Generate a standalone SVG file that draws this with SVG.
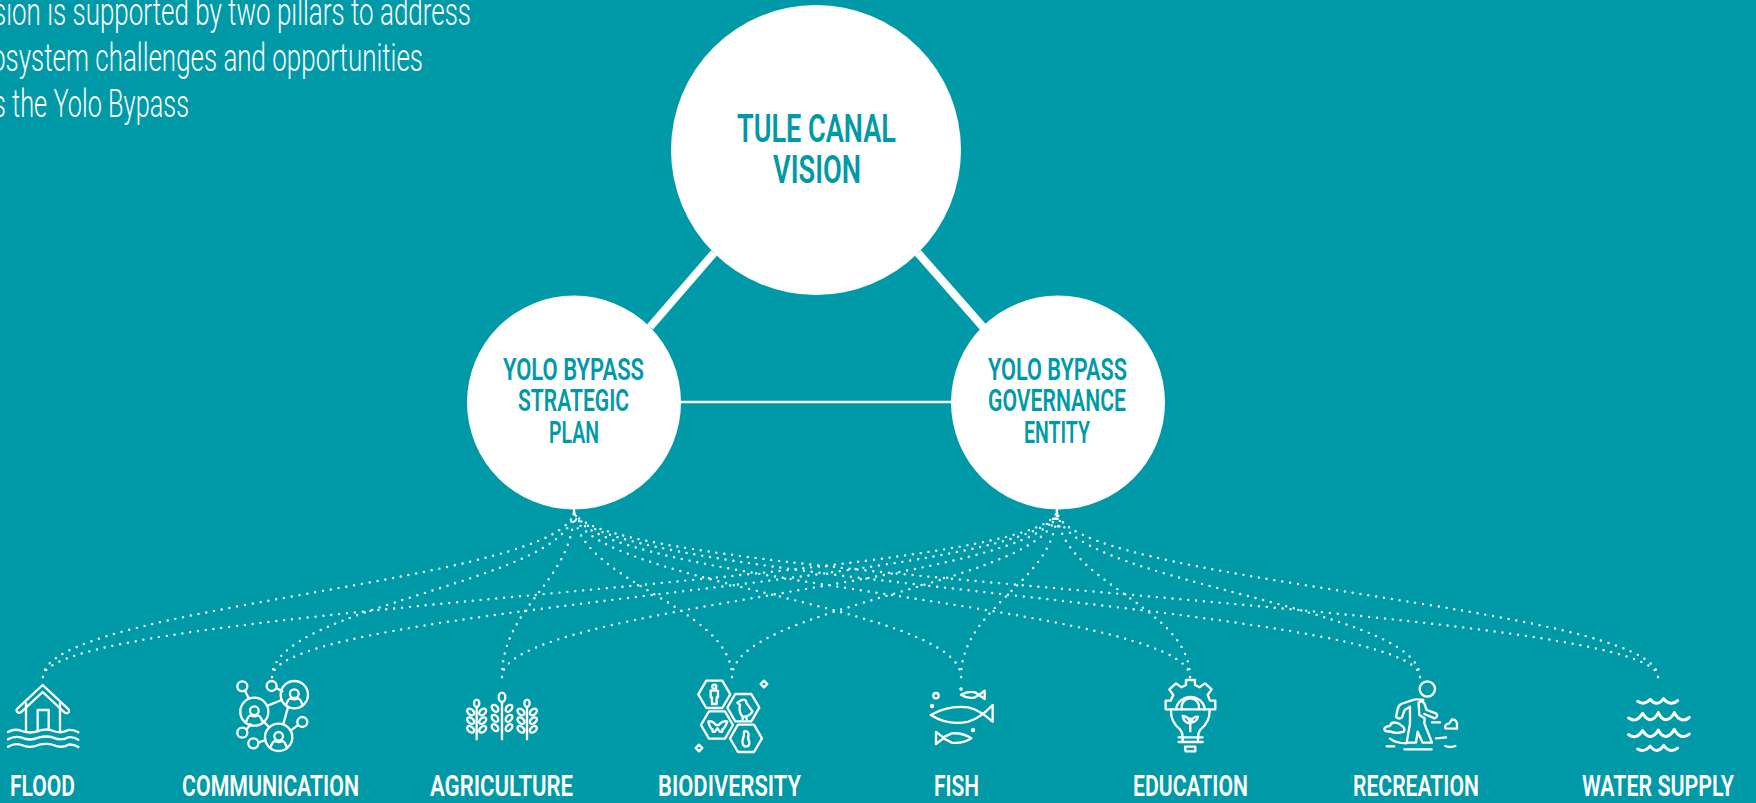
<svg xmlns="http://www.w3.org/2000/svg" width="1756" height="803" viewBox="0 0 1756 803">
<style>
.t{font-family:"Roboto","Liberation Sans",sans-serif;font-weight:600}
.w{fill:#fff}.c{fill:#0099a8}
.lab{font-size:29.5px}.pil{font-size:31px}.ttl{font-size:39.5px}
.para{font-family:"Roboto","Liberation Sans",sans-serif;font-weight:300;font-size:38px;fill:#fff}
.dot{fill:none;stroke:#fff;stroke-width:2.4;stroke-linecap:round;stroke-dasharray:0 7.9}
.ic{fill:none;stroke:#fff;stroke-width:7;stroke-linecap:round;stroke-linejoin:round}
.solid{stroke:#fff;fill:none}
</style>
<defs>
<g id="person"><circle cx="0" cy="-6" r="13"/><path d="M-24 26 Q-18 8 -10 8 Q0 14 10 8 Q18 8 24 26"/></g>
<path id="hex" d="M-48 0 L-24 -41 L24 -41 L48 0 L24 41 L-24 41 Z"/>
<ellipse id="leaf" cx="0" cy="0" rx="8" ry="12"/>
<path id="diam" d="M0 -10 L10 0 L0 10 L-10 0 Z"/>
</defs>
<rect width="1756" height="803" fill="#0099a8"/>
<g id="intro">
<text class="para" x="-7" y="25" textLength="478" lengthAdjust="spacingAndGlyphs">sion is supported by two pillars to address</text>
<text class="para" x="-9" y="71" textLength="432" lengthAdjust="spacingAndGlyphs">osystem challenges and opportunities</text>
<text class="para" x="-7" y="117" textLength="196" lengthAdjust="spacingAndGlyphs">s the Yolo Bypass</text>
</g>
<g id="connectors">
<path class="solid" stroke-width="8" d="M714 253 L650 327"/>
<path class="solid" stroke-width="8" d="M918 253 L983 327"/>
<path class="solid" stroke-width="2.5" d="M681 402 L951 402"/>
<path class="solid" stroke-width="2" d="M574 509 V514"/>
<path class="solid" stroke-width="2" d="M1057 509 V516"/>
<path class="dot" d="M43 677 C43 605 574 582 574 510"/>
<path class="dot" d="M43 677 C43 605 1057 582 1057 510"/>
<path class="dot" d="M272 677 C272 605 574 582 574 510"/>
<path class="dot" d="M272 677 C272 605 1057 582 1057 510"/>
<path class="dot" d="M502 677 C502 605 574 582 574 510"/>
<path class="dot" d="M502 677 C502 605 1057 582 1057 510"/>
<path class="dot" d="M732 677 C732 605 574 582 574 510"/>
<path class="dot" d="M732 677 C732 605 1057 582 1057 510"/>
<path class="dot" d="M961 677 C961 605 574 582 574 510"/>
<path class="dot" d="M961 677 C961 605 1057 582 1057 510"/>
<path class="dot" d="M1190 677 C1190 605 574 582 574 510"/>
<path class="dot" d="M1190 677 C1190 605 1057 582 1057 510"/>
<path class="dot" d="M1420 677 C1420 605 574 582 574 510"/>
<path class="dot" d="M1420 677 C1420 605 1057 582 1057 510"/>
<path class="dot" d="M1658 677 C1658 605 574 582 574 510"/>
<path class="dot" d="M1658 677 C1658 605 1057 582 1057 510"/>
<path class="dot" d="M1057 516 Q1052 518 1053 525 Q1058 528 1065 524"/>
</g>
<g id="vision">
<circle class="w" cx="816" cy="150" r="145"/>
<text class="t c ttl" x="737" y="142" textLength="159" lengthAdjust="spacingAndGlyphs">TULE CANAL</text>
<text class="t c ttl" x="773" y="183" textLength="88" lengthAdjust="spacingAndGlyphs">VISION</text>
</g>
<g id="strategic-plan">
<circle class="w" cx="574" cy="402.500" r="107"/>
<text class="t c pil" x="503" y="380" textLength="141" lengthAdjust="spacingAndGlyphs">YOLO BYPASS</text>
<text class="t c pil" x="518" y="411" textLength="111" lengthAdjust="spacingAndGlyphs">STRATEGIC</text>
<text class="t c pil" x="549" y="443" textLength="50" lengthAdjust="spacingAndGlyphs">PLAN</text>
</g>
<g id="governance-entity">
<circle class="w" cx="1058" cy="402.500" r="107"/>
<text class="t c pil" x="988" y="380" textLength="139" lengthAdjust="spacingAndGlyphs">YOLO BYPASS</text>
<text class="t c pil" x="988" y="411" textLength="138" lengthAdjust="spacingAndGlyphs">GOVERNANCE</text>
<text class="t c pil" x="1024" y="443" textLength="66" lengthAdjust="spacingAndGlyphs">ENTITY</text>
</g>
<g id="flood">
<g class="ic" transform="translate(0 660) scale(.3333)">
<path d="M128 75 L206 148 Q210 158 200 160 Q195 160 190 154 L128 96 L66 154 Q60 160 54 158 Q46 152 52 146 Z"/>
<path d="M78 130 V214 M180 130 V214 M113 214 V150 H146 V208"/>
<path d="M24 216 Q45 204 65 213 Q90 222 115 213 Q140 204 160 213 Q185 222 205 210 Q220 208 235 217"/>
<path d="M24 238 Q45 226 65 233 Q90 244 115 233 Q140 226 160 233 Q185 244 205 232 Q220 230 235 239"/>
<path d="M24 260 Q45 248 65 255 Q90 266 115 255 Q140 248 160 255 Q185 266 205 254 Q220 252 235 261"/>
</g>
<text class="t w lab" x="10" y="796" textLength="65" lengthAdjust="spacingAndGlyphs">FLOOD</text>
</g>
<g id="communication">
<g class="ic" transform="translate(0 660) scale(.3333)">
<circle cx="763" cy="155" r="42"/><circle cx="883" cy="104" r="41"/><circle cx="836" cy="232" r="41"/>
<use href="#person" x="763" y="158"/><use href="#person" x="883" y="107"/><use href="#person" x="836" y="235"/>
<circle cx="727" cy="79" r="15"/><circle cx="815" cy="78" r="15"/><circle cx="727" cy="218" r="15"/><circle cx="760" cy="250" r="15"/><circle cx="907" cy="186" r="15"/>
<path d="M735 92 L747 116 M830 85 L847 94 M805 136 L845 120 M864 142 L850 192 M786 180 L806 200 M740 208 L752 193 M775 248 L796 240 M872 212 L893 196"/>
</g>
<text class="t w lab" x="182" y="796" textLength="177" lengthAdjust="spacingAndGlyphs">COMMUNICATION</text>
</g>
<g id="agriculture">
<g class="ic" transform="translate(440 660) scale(.3333)">
<path d="M110 145 V238 M186 128 V238 M261 145 V238"/>
<ellipse cx="110" cy="130" rx="8" ry="11"/><ellipse cx="186" cy="112" rx="10" ry="14"/><ellipse cx="261" cy="130" rx="8" ry="11"/>
<use href="#leaf" transform="translate(92 156) rotate(-50)"/><use href="#leaf" transform="translate(128 156) rotate(50)"/>
<use href="#leaf" transform="translate(92 182) rotate(-50)"/><use href="#leaf" transform="translate(128 182) rotate(50)"/>
<use href="#leaf" transform="translate(92 208) rotate(-50)"/><use href="#leaf" transform="translate(128 208) rotate(50)"/>
<use href="#leaf" transform="translate(165 145) rotate(-40)"/><use href="#leaf" transform="translate(207 145) rotate(40)"/>
<use href="#leaf" transform="translate(165 175) rotate(-40)"/><use href="#leaf" transform="translate(207 175) rotate(40)"/>
<use href="#leaf" transform="translate(165 203) rotate(-40)"/><use href="#leaf" transform="translate(207 203) rotate(40)"/>
<use href="#leaf" transform="translate(243 156) rotate(-50)"/><use href="#leaf" transform="translate(280 156) rotate(50)"/>
<use href="#leaf" transform="translate(243 182) rotate(-50)"/><use href="#leaf" transform="translate(280 182) rotate(50)"/>
<use href="#leaf" transform="translate(243 208) rotate(-50)"/><use href="#leaf" transform="translate(280 208) rotate(50)"/>
</g>
<text class="t w lab" x="430" y="796" textLength="143" lengthAdjust="spacingAndGlyphs">AGRICULTURE</text>
</g>
<g id="biodiversity">
<g class="ic" transform="translate(440 660) scale(.3333)">
<use href="#hex" x="823" y="103"/><use href="#hex" x="910" y="143"/><use href="#hex" x="831" y="195"/><use href="#hex" x="918" y="235"/>
<use href="#diam" x="972" y="72"/><use href="#diam" x="777" y="264"/>
<circle cx="823" cy="80" r="6"/><path d="M812 92 H834 V112 H830 V132 H816 V112 H812 Z"/>
<path d="M905 120 Q918 115 920 130 L938 155 Q925 172 908 170 Q895 155 900 135 L892 128 Z M908 172 V178 M920 172 V178"/>
<path d="M828 195 Q815 180 805 185 Q810 205 818 208 Q815 218 825 215 L832 205 L840 215 Q850 218 847 208 Q855 205 862 185 Q850 180 836 195 Z"/>
<path d="M912 215 Q925 210 926 225 Q922 235 928 245 Q930 260 916 260 Q905 255 908 240 Q912 230 912 215 Z"/>
</g>
<text class="t w lab" x="658" y="796" textLength="143" lengthAdjust="spacingAndGlyphs">BIODIVERSITY</text>
</g>
<g id="fish">
<g class="ic" transform="translate(880 660) scale(.3333)">
<path d="M152 165 Q205 135 265 142 Q300 150 338 185 V135 Q300 175 265 185 Q205 198 152 165 Z"/>
<path d="M243 104 Q265 92 285 97 L297 105 L314 92 V117 L297 105 L285 112 Q265 118 243 104 Z"/>
<path d="M274 235 Q250 218 215 220 L190 232 L168 216 V252 L190 235 L215 248 Q250 252 274 235 Z"/>
<circle cx="168" cy="107" r="8"/>
</g>
<g fill="#fff"><circle cx="932" cy="706" r="2.2"/><circle cx="961" cy="689" r="1.8"/><circle cx="973" cy="730" r="2.2"/></g>
<text class="t w lab" x="934" y="796" textLength="45" lengthAdjust="spacingAndGlyphs">FISH</text>
</g>
<g id="education">
<g class="ic" transform="translate(880 660) scale(.3333)">
<path d="M857 148 V122 H872 L880 105 L868 88 L888 70 L905 82 L918 75 V60 H945 V75 L958 82 L975 70 L995 88 L983 105 L990 122 H1006 V148 Z"/>
<path d="M888 148 A44 44 0 0 1 975 148 M906 148 A26 26 0 1 1 956 148"/>
<path d="M873 152 Q872 185 900 208 Q908 218 908 232 M989 152 Q990 185 962 208 Q954 218 954 232"/>
<path d="M931 214 V175 M928 190 Q912 188 908 168 Q928 170 930 188 M934 185 Q938 170 954 170 Q952 185 934 188"/>
<path d="M896 232 H968 M896 246 H968 M908 232 V246 M954 232 V246 M915 260 H946 V274 H917 Z"/>
</g>
<text class="t w lab" x="1133" y="796" textLength="115" lengthAdjust="spacingAndGlyphs">EDUCATION</text>
</g>
<g id="recreation">
<g class="ic" transform="translate(1316 660) scale(.3333)">
<circle cx="334" cy="87" r="23"/>
<path d="M322 120 Q300 115 285 122 L255 132 Q246 138 244 152 L240 170 Q248 180 258 172 L266 150 L282 140 L282 190 L272 248 L300 248 L305 215 L320 248 L348 248 L325 190 L326 175 L310 165 L308 130"/>
<path d="M308 128 Q318 120 325 130 L332 150 L360 160 Q368 170 356 175 L325 162"/>
<path d="M240 188 Q225 185 222 198 Q205 200 205 208 Q208 216 222 214 Q240 222 262 216 Q270 205 258 198 Q250 190 240 188 Z"/>
<path d="M388 205 Q385 192 400 190 L408 178 Q420 178 423 190 V206 Z"/>
<path d="M222 236 Q240 250 272 250 M348 187 H372 M360 235 L390 232 M212 259 H235 M265 268 H347 M388 258 Q402 264 418 258"/>
</g>
<text class="t w lab" x="1353" y="796" textLength="126" lengthAdjust="spacingAndGlyphs">RECREATION</text>
</g>
<g id="water-supply">
<g class="ic" transform="translate(1316 660) scale(.3333)" style="stroke-width:9">
<path d="M965 124 C980 134 990 130 1003 118 C1015 134 1030 134 1043 116 C1055 134 1075 132 1085 122"/>
<path d="M938 174 C955 186 968 180 980 160 C995 186 1012 186 1027 158 C1040 186 1060 186 1075 158 C1088 184 1108 184 1120 172"/>
<path d="M938 224 C955 236 968 230 980 212 C995 236 1012 236 1027 210 C1040 236 1060 236 1075 208 C1088 234 1108 234 1120 222"/>
<path d="M965 267 C980 276 990 272 1003 258 C1015 276 1030 276 1043 256 C1055 276 1075 274 1085 264"/>
</g>
<text class="t w lab" x="1582" y="796" textLength="152" lengthAdjust="spacingAndGlyphs">WATER SUPPLY</text>
</g>
</svg>
